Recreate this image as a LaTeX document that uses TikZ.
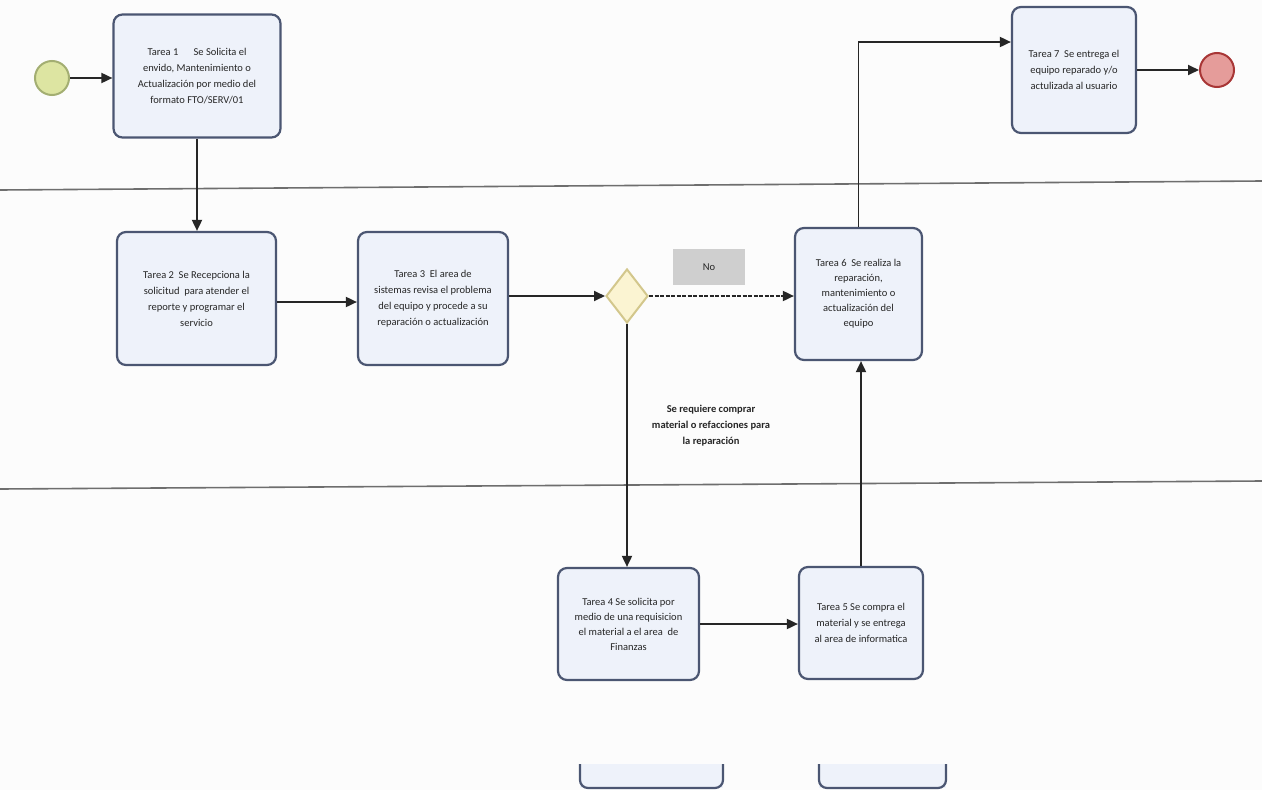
\documentclass[tikz,border=0pt]{standalone}
\usepackage{fontspec}
\setmainfont{Carlito}
\usetikzlibrary{arrows.meta,shapes.geometric}

\definecolor{paper}{HTML}{FCFCFC}
\definecolor{boxfill}{HTML}{EEF2FA}
\definecolor{boxline}{HTML}{4B5672}
\definecolor{txt}{HTML}{262626}
\definecolor{lanegray}{HTML}{6E6E6E}
\definecolor{startfill}{HTML}{DDE5A2}
\definecolor{startline}{HTML}{A3AE72}
\definecolor{endfill}{HTML}{E59C9A}
\definecolor{endline}{HTML}{A83636}
\definecolor{gwfill}{HTML}{FBF4D2}
\definecolor{gwline}{HTML}{D3C78C}
\definecolor{tagfill}{HTML}{CFCFCF}

\begin{document}
\begin{tikzpicture}[x=1pt,y=-1pt,
  task/.style={draw=boxline, fill=boxfill, line width=2.2pt, rounded corners=9pt,
    align=center, inner sep=0pt, text=txt, font=\fontsize{10.5}{16}\selectfont},
  flow/.style={draw=black!85, line width=1.8pt, -{Triangle[length=11pt,width=10pt]}},
  dflow/.style={flow, dash pattern=on 4pt off 1.5pt},
  lane/.style={draw=lanegray, line width=1.6pt},
  event/.style={circle, inner sep=0pt, minimum size=34pt, line width=2pt},
  gateway/.style={diamond, draw=gwline, fill=gwfill, line width=2pt, inner sep=0pt,
    minimum width=42pt, minimum height=54pt},
  tag/.style={fill=tagfill, text=txt, inner sep=0pt, minimum width=72pt, minimum height=36pt,
    font=\fontsize{10.5}{13}\selectfont},
  note/.style={align=center, text=txt, inner sep=0pt, font=\bfseries\fontsize{10.5}{16}\selectfont}
]
% page
\fill[paper] (0,0) rectangle (1262,790);
\useasboundingbox (0,0) rectangle (1262,790);

% lane separators
\draw[lane] (0,190) -- (1262,181);
\draw[lane] (0,489) -- (1262,481);

% events and gateway
\node[event, draw=startline, fill=startfill] (start) at (52,78) {};
\node[event, draw=endline, fill=endfill] (finish) at (1217,70) {};
\node[gateway] (gw) at (627,296) {};

% tasks
\node[task, minimum width=167pt, minimum height=123pt] (t1) at (197,76)
  {Tarea 1 \quad\ Se Solicita el\\envido, Mantenimiento o\\Actualización por medio del\\formato FTO/SERV/01};
\node[task, minimum width=159pt, minimum height=133pt] (t2) at (196.5,298.5)
  {Tarea 2\ \ Se Recepciona la\\solicitud\ \ para atender el\\reporte y programar el\\servicio};
\node[task, minimum width=150pt, minimum height=133pt] (t3) at (433,298.5)
  {Tarea 3\ \ El area de\\sistemas revisa el problema\\del equipo y procede a su\\reparación o actualización};
\node[task, minimum width=127pt, minimum height=132pt, font=\fontsize{10.5}{15}\selectfont] (t6) at (858.5,294)
  {Tarea 6\ \ Se realiza la\\reparación,\\mantenimiento o\\actualización del\\equipo};
\node[task, minimum width=124pt, minimum height=126pt] (t7) at (1074,70)
  {Tarea 7\ \ Se entrega el\\equipo reparado y/o\\actulizada al usuario};
\node[task, minimum width=141pt, minimum height=112pt, font=\fontsize{10.5}{15}\selectfont] (t4) at (628.5,624)
  {Tarea 4 Se solicita por\\medio de una requisicion\\el material a el area\ \ de\\Finanzas};
\node[task, minimum width=124pt, minimum height=112pt] (t5) at (861,623)
  {Tarea 5 Se compra el\\material y se entrega\\al area de informatica};

% labels
\node[tag] (no) at (709,267) {No};
\node[note] (cond) at (711,426) {Se requiere comprar\\material o refacciones para\\la reparación};

% sequence flows
\draw[flow] (start.east) -- (start.east -| t1.west);
\draw[flow] (t1.south) -- (t1.south |- t2.north);
\draw[flow] (t2.east |- 0,302) -- (t3.west |- 0,302);
\draw[flow] (t3.east |- gw.west) -- (gw.west);
\draw[dflow] (gw.east) -- (gw.east -| t6.west);
\draw[flow] (gw.south) -- (gw.south |- t4.north);
\draw[flow] (t4.east) -- (t4.east -| t5.west);
\draw[flow] (t5.north) -- (t5.north |- t6.south);
\draw[flow] (t6.north) |- ([yshift=28pt]t7.west);
\draw[flow] (t7.east) -- (finish.west);

% lower edges of the next tasks
\fill[boxfill] (580,764) -- (580,788) -- (723,788) -- (723,764) -- cycle;
\draw[boxline, line width=2.2pt, rounded corners=8pt] (580,764) -- (580,788) -- (723,788) -- (723,764);
\fill[boxfill] (819,764) -- (819,788) -- (946,788) -- (946,764) -- cycle;
\draw[boxline, line width=2.2pt, rounded corners=8pt] (819,764) -- (819,788) -- (946,788) -- (946,764);
\end{tikzpicture}
\end{document}
